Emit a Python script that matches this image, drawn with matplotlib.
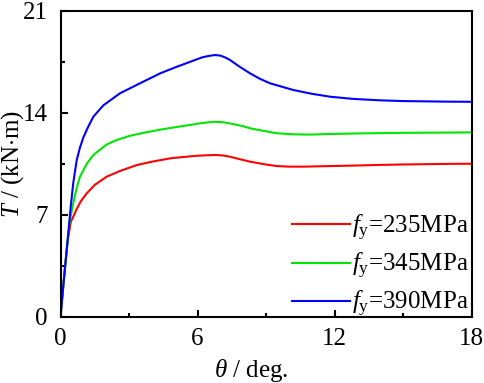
import numpy as np
import matplotlib
matplotlib.use("Agg")
import matplotlib.pyplot as plt
from matplotlib.ticker import MultipleLocator

plt.rcParams['font.family'] = ['Liberation Serif', 'DejaVu Serif']
plt.rcParams['mathtext.fontset'] = 'custom'
plt.rcParams['mathtext.rm'] = 'Liberation Serif'
plt.rcParams['mathtext.it'] = 'Liberation Serif:italic'

# rotation angle (deg) and torque (kN.m)
theta_235 = [0, 0.15, 0.31, 0.45, 0.6, 0.71, 0.9, 1.15, 1.5, 2.02, 2.6, 3.34, 4.0, 4.8, 5.5, 6.0, 6.4,
             6.76, 7.1, 7.42, 7.8, 8.3, 8.9, 9.47, 10.0, 10.63, 11.8, 13, 14, 15, 16, 17, 18]
T_235 = [0, 2.6, 5.2, 6.5, 7.0, 7.4, 7.95, 8.47, 9.05, 9.61, 10.0, 10.41, 10.64, 10.87, 10.98, 11.05, 11.08,
         11.1, 11.07, 10.98, 10.83, 10.64, 10.47, 10.34, 10.3, 10.3, 10.34, 10.38, 10.42, 10.45, 10.47, 10.49, 10.5]

theta_345 = [0, 0.15, 0.31, 0.4, 0.56, 0.7, 0.85, 1.15, 1.44, 2.0, 2.46, 3.0, 3.63, 4.3, 4.8, 5.5,
             6.0, 6.4, 6.76, 7.1, 7.57, 8.0, 8.3, 8.9, 9.47, 10.2, 10.9, 11.8, 13, 14, 15, 16, 17, 18]
T_345 = [0, 2.6, 5.2, 6.5, 7.8, 8.8, 9.6, 10.5, 11.1, 11.8, 12.13, 12.4, 12.62, 12.82, 12.95, 13.12,
         13.25, 13.33, 13.38, 13.35, 13.22, 13.07, 12.93, 12.75, 12.59, 12.52, 12.5, 12.54, 12.58,
         12.6, 12.62, 12.63, 12.64, 12.65]

theta_390 = [0, 0.15, 0.31, 0.45, 0.56, 0.71, 0.85, 1.0, 1.2, 1.44, 1.87, 2.6, 3.48, 4.36, 5.0, 5.6,
             6.2, 6.5, 6.76, 7.0, 7.2, 7.42, 7.8, 8.3, 8.7, 9.17, 9.7, 10.19, 11.0, 11.8, 12.8, 14, 15, 16, 17, 18]
T_390 = [0, 2.6, 5.2, 7.6, 9.2, 10.75, 11.6, 12.3, 13.0, 13.73, 14.5, 15.33, 16.02, 16.7, 17.1, 17.45,
         17.8, 17.9, 17.96, 17.92, 17.8, 17.62, 17.2, 16.7, 16.35, 16.02, 15.78, 15.56, 15.3, 15.1,
         14.95, 14.85, 14.8, 14.78, 14.76, 14.75]

labels = [r'$f_{\mathrm{y}}$=235MPa', r'$f_{\mathrm{y}}$=345MPa', r'$f_{\mathrm{y}}$=390MPa']
colors = ['#ff0000', '#00e600', '#0000ff']

fig = plt.figure(figsize=(4.84, 3.83), dpi=100)
ax = fig.add_axes([0.125, 0.173, 0.8496, 0.799])

series = [(theta_235, T_235), (theta_345, T_345), (theta_390, T_390)]
for (x, T), lab, c in zip(series, labels, colors):
    ax.plot(x, T, color=c, lw=1.5, label=lab, solid_joinstyle='round')

ax.set_xlim(0, 18)
ax.set_ylim(0, 21)
ax.xaxis.set_major_locator(MultipleLocator(6))
ax.xaxis.set_minor_locator(MultipleLocator(3))
ax.yaxis.set_major_locator(MultipleLocator(7))
ax.yaxis.set_minor_locator(MultipleLocator(3.5))
ax.tick_params(which='both', direction='in', top=False, right=False, labelsize=18, width=1.5)
ax.tick_params(which='major', length=5)
ax.tick_params(which='minor', length=3)
ax.tick_params(axis='x', pad=8)
ax.tick_params(axis='y', pad=9)
for s in ax.spines.values():
    s.set_linewidth(1.5)

ax.set_xlabel(r'$\theta$ / deg.', fontsize=18)
ax.set_ylabel(r'$T$ / (kN$\cdot$m)', fontsize=18)
ax.xaxis.set_label_coords(0.463, -0.13)
ax.yaxis.set_label_coords(-0.084, 0.5)

ax.legend(loc='lower right', frameon=False, fontsize=18, handlelength=2.3,
          labelspacing=0.32, handletextpad=0.1, borderaxespad=0.0,
          bbox_to_anchor=(1.018, -0.04))

fig.savefig('out.png', dpi=100)
